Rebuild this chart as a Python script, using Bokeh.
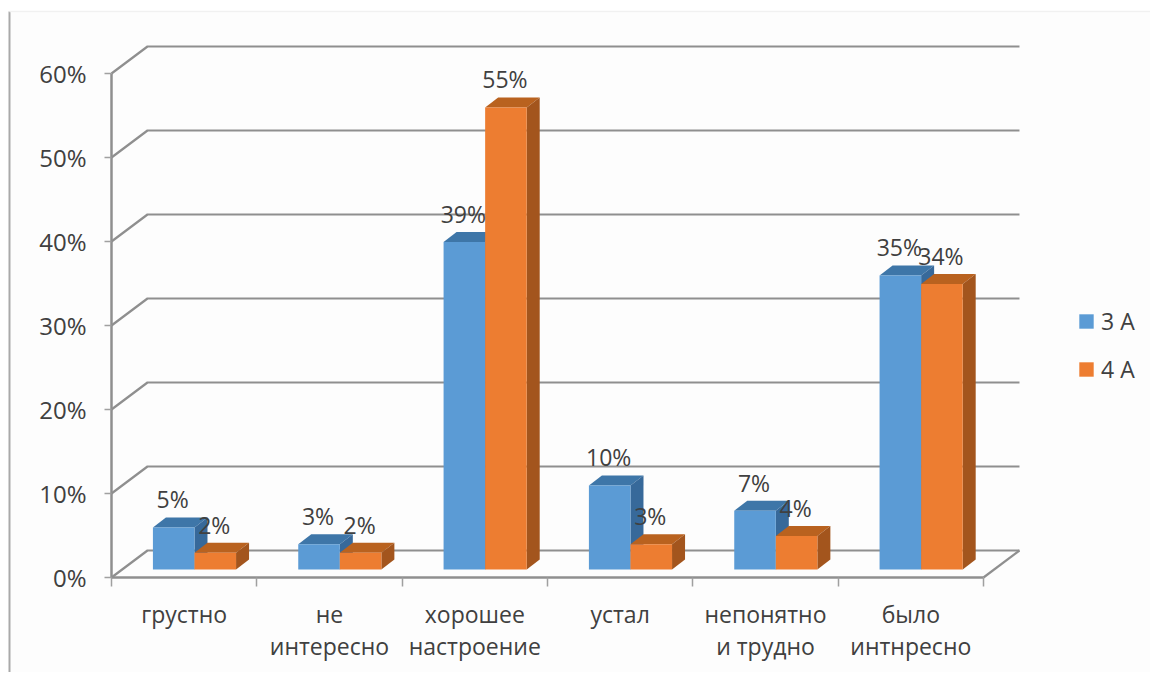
from bokeh.plotting import figure
from bokeh.embed import file_html
from bokeh.resources import INLINE
from bokeh.models import FixedTicker, PrintfTickFormatter, Legend, LegendItem, Range1d
from bokeh.core.properties import value

categories = ["грустно", "не\nинтересно", "хорошее\nнастроение", "устал", "непонятно\nи трудно", "было\nинтнресно"]
series_names = ["3 А", "4 А"]
values_3a = [5, 3, 39, 10, 7, 35]
values_4a = [2, 2, 55, 3, 4, 34]
y_ticks = [0, 10, 20, 30, 40, 50, 60]

FONT = "Open Sans"
TEXT = "#404040"
GRID = "#8f8f8f"
SIZE = "24px"
SIZE_SMALL = "23px"

# pixel calibration of the value scales (picture px)
W, H = 1150, 672
X0, XU = 111.0, 145.33
Y0, YU = 577.0, 8.4
WALL_DX, WALL_DY = 36 / XU, 27 / YU
DEPTH_DX, DEPTH_DY = 13 / XU, 10 / YU
BASE = 8 / YU
BAR_START, BAR_W = 0.285, 0.286

p = figure(width=W, height=H, output_backend="svg", toolbar_location=None,
           x_range=Range1d((0 - X0) / XU, (W - X0) / XU),
           y_range=Range1d((Y0 - H) / YU, (Y0 - 0) / YU),
           min_border=0, outline_line_color=None, background_fill_color="white",
           border_fill_color="white")
p.grid.visible = False


def px(v):
    return (v - X0) / XU


def py(v):
    return (Y0 - v) / YU


# page frame of the screenshot
p.quad(left=[px(10)], right=[px(W)], bottom=[py(H)], top=[py(12)], fill_color="#fdfdfd", line_color=None)
p.segment(x0=[px(9)], y0=[py(H)], x1=[px(9)], y1=[py(11)], line_color="#a9a9a9", line_width=2)
p.segment(x0=[px(9)], y0=[py(11)], x1=[px(W)], y1=[py(11)], line_color="#f1f1f1", line_width=1.5)

# walls: gridlines on the oblique back wall
n = len(categories)
grid_x = [[0, WALL_DX, n + WALL_DX] for _ in y_ticks]
grid_y = [[t, t + WALL_DY, t + WALL_DY] for t in y_ticks]
p.multi_line(grid_x, grid_y, line_color=GRID, line_width=2.2)
p.line([n, n + WALL_DX], [0, WALL_DY], line_color=GRID, line_width=2.2)


def draw_series(vals, offset, front, top_col, side_col):
    lefts = [i + BAR_START + offset * BAR_W for i in range(n)]
    rights = [l + BAR_W for l in lefts]
    tops = [v + BASE for v in vals]
    p.patches([[l, l + DEPTH_DX, r + DEPTH_DX, r] for l, r in zip(lefts, rights)],
              [[t, t + DEPTH_DY, t + DEPTH_DY, t] for t in tops],
              fill_color=top_col, line_color=None)
    p.patches([[r, r + DEPTH_DX, r + DEPTH_DX, r] for r in rights],
              [[BASE, BASE + DEPTH_DY, t + DEPTH_DY, t] for t in tops],
              fill_color=side_col, line_color=None)
    return p.quad(left=lefts, right=rights, bottom=BASE, top=tops, fill_color=front, line_color=None)


r_a = draw_series(values_3a, 0, "#5B9BD5", "#3E76A8", "#37699A")
r_b = draw_series(values_4a, 1, "#ED7D31", "#B9621F", "#A3551D")

# data labels
for vals, offset in ((values_3a, 0), (values_4a, 1)):
    p.text(x=[i + BAR_START + (offset + 0.5) * BAR_W - 0.007 for i in range(n)],
           y=[v + BASE + 3.35 for v in vals],
           text=[f"{v}%" for v in vals],
           text_font=value(FONT), text_font_size=value(SIZE_SMALL), text_color=TEXT,
           text_align="center", text_baseline="middle")

# axes at the front corner
xa = p.xaxis[0]
xa.fixed_location = 0
xa.bounds = (0, n)
xa.ticker = FixedTicker(ticks=[i + 0.5 for i in range(n)], minor_ticks=list(range(n + 1)))
xa.major_label_overrides = {i + 0.5: c for i, c in enumerate(categories)}
xa.major_tick_line_color = None
xa.major_tick_in = 0
xa.major_tick_out = 0
xa.minor_tick_in = 0
xa.minor_tick_out = 9
xa.minor_tick_line_color = "#a0a0a0"
xa.minor_tick_line_width = 1.5
xa.axis_line_color = GRID
xa.axis_line_width = 2.5
xa.major_label_standoff = 11
xa.major_label_text_font = FONT
xa.major_label_text_font_size = SIZE_SMALL
xa.major_label_text_color = TEXT
xa.major_label_text_line_height = 1.0

ya = p.yaxis[0]
ya.fixed_location = 0
ya.bounds = (0, 60)
ya.ticker = FixedTicker(ticks=y_ticks)
ya.formatter = PrintfTickFormatter(format="%d%%")
ya.major_tick_in = 0
ya.major_tick_out = 7
ya.minor_tick_line_color = None
ya.major_tick_line_color = "#a0a0a0"
ya.major_tick_line_width = 1.5
ya.axis_line_color = GRID
ya.axis_line_width = 2.5
ya.major_label_standoff = 18
ya.major_label_text_font = FONT
ya.major_label_text_font_size = SIZE
ya.major_label_text_color = TEXT

legend = Legend(items=[LegendItem(label=series_names[0], renderers=[r_a]),
                       LegendItem(label=series_names[1], renderers=[r_b])],
                location=(1077, 287), orientation="vertical",
                glyph_width=18, glyph_height=18, label_standoff=6, spacing=16, padding=0, margin=0,
                border_line_color=None, background_fill_alpha=0,
                label_text_font=FONT, label_text_font_size=SIZE_SMALL, label_text_color=TEXT)
p.add_layout(legend, "center")

open("out.html", "w").write(file_html(p, INLINE))
